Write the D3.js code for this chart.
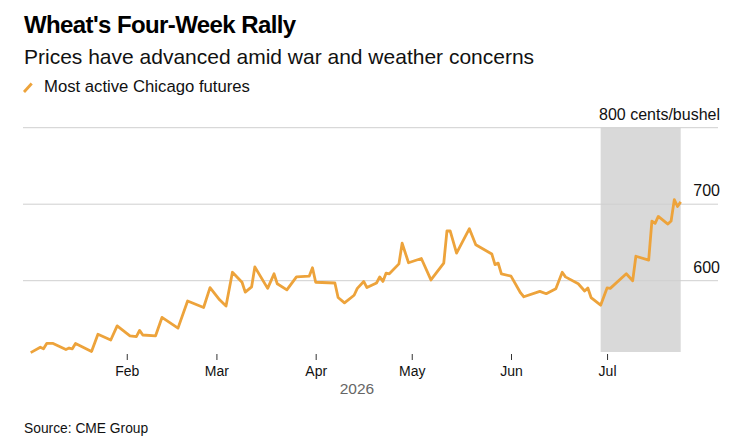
<!DOCTYPE html>
<html>
<head>
<meta charset="utf-8">
<script src="https://cdn.jsdelivr.net/npm/d3@7"></script>
<style>
  body { margin: 0; background: #fff; }
  svg { display: block; font-family: "Liberation Sans", Arial, sans-serif; }
</style>
</head>
<body>
<div id="chart"></div>
<script>
// wheat futures, most active Chicago contract (cents/bushel)
const dates = [
  "2026-01-02", "2026-01-05", "2026-01-06", "2026-01-07", "2026-01-09", "2026-01-13",
  "2026-01-14", "2026-01-15", "2026-01-16", "2026-01-21", "2026-01-23", "2026-01-27",
  "2026-01-29", "2026-02-02", "2026-02-04", "2026-02-05", "2026-02-06", "2026-02-10",
  "2026-02-12", "2026-02-17", "2026-02-20", "2026-02-25", "2026-02-27", "2026-03-02",
  "2026-03-04", "2026-03-06", "2026-03-09", "2026-03-10", "2026-03-12", "2026-03-13",
  "2026-03-17", "2026-03-19", "2026-03-20", "2026-03-23", "2026-03-26", "2026-03-30",
  "2026-03-31", "2026-04-01", "2026-04-07", "2026-04-08", "2026-04-10", "2026-04-13",
  "2026-04-14", "2026-04-16", "2026-04-17", "2026-04-20", "2026-04-21", "2026-04-22",
  "2026-04-23", "2026-04-24", "2026-04-27", "2026-04-28", "2026-04-30", "2026-05-04",
  "2026-05-07", "2026-05-11", "2026-05-12", "2026-05-13", "2026-05-15", "2026-05-19",
  "2026-05-21", "2026-05-26", "2026-05-27", "2026-05-28", "2026-05-29", "2026-06-01",
  "2026-06-04", "2026-06-05", "2026-06-10", "2026-06-12", "2026-06-15", "2026-06-17",
  "2026-06-18", "2026-06-22", "2026-06-24", "2026-06-25", "2026-06-26", "2026-06-29",
  "2026-07-01", "2026-07-02", "2026-07-07", "2026-07-09", "2026-07-10", "2026-07-14",
  "2026-07-15", "2026-07-16", "2026-07-17", "2026-07-20", "2026-07-21", "2026-07-22",
  "2026-07-23", "2026-07-24"
];
const prices = [
  506, 513, 511, 518, 518, 510,
  512, 511, 518, 507.5, 530, 522.5,
  541, 528, 527, 535, 529, 528,
  552, 538, 573.5, 565, 591, 575,
  567, 611, 598, 585, 592, 618,
  590, 609, 596, 588, 605, 606,
  617, 598, 597, 578, 571, 581,
  590, 599, 591, 597, 605, 599,
  610, 609, 622, 649, 623.5, 629,
  601, 623, 665, 665, 636, 668,
  647, 635, 621, 623, 609, 606,
  584, 579, 586, 583, 589.5, 611,
  605, 596, 586.5, 590.5, 578, 568,
  590.5, 590, 609, 600, 632, 627,
  678, 675, 684, 674, 678, 706,
  697, 703
];

// four-week rally window
const rallyStart = "2026-06-29";
const rallyEnd = "2026-07-24";

const yTicks = [600, 700, 800];
const yTickLabels = ["600", "700", "800 cents/bushel"];

const title = "Wheat's Four-Week Rally";
const subtitle = "Prices have advanced amid war and weather concerns";
const legendLabel = "Most active Chicago futures";
const yearLabel = "2026";
const source = "Source: CME Group";

const W = 729, H = 437;
const lineColor = "#eda33b";
const parse = d3.timeParse("%Y-%m-%d");
const data = dates.map((d, i) => ({ date: parse(d), value: prices[i] }));

const svg = d3.select("#chart").append("svg")
  .attr("width", W)
  .attr("height", H);

const x = d3.scaleTime()
  .domain([new Date(2026, 0, 1), new Date(2026, 7, 1)])
  .range([27.5, 27.5 + 212 * 3.202]);

const y = d3.scaleLinear()
  .domain([500, 800])
  .range([357.2, 127.7]);

const plotBottom = 352;
const gridLeft = 23, gridRight = 718;

// shaded rally window
svg.append("rect")
  .attr("x", x(parse(rallyStart)))
  .attr("y", y(800))
  .attr("width", x(parse(rallyEnd)) - x(parse(rallyStart)))
  .attr("height", plotBottom - y(800))
  .attr("fill", "#d9d9d9");

// gridlines
svg.append("g")
  .selectAll("line")
  .data(yTicks)
  .join("line")
  .attr("x1", gridLeft)
  .attr("x2", gridRight)
  .attr("y1", d => y(d))
  .attr("y2", d => y(d))
  .attr("stroke", "#cfcfcf")
  .attr("stroke-width", 1);

svg.append("g")
  .selectAll("text")
  .data(yTicks)
  .join("text")
  .attr("x", 720)
  .attr("y", d => y(d) - 8)
  .attr("text-anchor", "end")
  .style("font-size", "16px")
  .attr("fill", "#111")
  .text((d, i) => yTickLabels[i]);

// price line
svg.append("path")
  .datum(data)
  .attr("fill", "none")
  .attr("stroke", lineColor)
  .attr("stroke-width", 2.8)
  .attr("stroke-linejoin", "round")
  .attr("d", d3.line().x(d => x(d.date)).y(d => y(d.value)));

// month axis
const xAxis = svg.append("g")
  .attr("transform", "translate(0,354)")
  .call(d3.axisBottom(x)
    .tickValues(d3.timeMonth.range(new Date(2026, 1, 1), new Date(2026, 7, 1)))
    .tickFormat(d3.timeFormat("%b"))
    .tickSize(6)
    .tickPadding(6));
xAxis.select(".domain").remove();
xAxis.selectAll("line").attr("stroke", "#333");
xAxis.selectAll("text")
  .style("font-size", "14px")
  .style("font-family", "'Liberation Sans', Arial, sans-serif")
  .attr("fill", "#111");

svg.append("text")
  .attr("x", 357)
  .attr("y", 394)
  .attr("text-anchor", "middle")
  .style("font-size", "15.5px")
  .attr("fill", "#666")
  .text(yearLabel);

// header
svg.append("text")
  .attr("x", 24)
  .attr("y", 33)
  .style("font-size", "24px")
  .style("font-weight", 700)
  .style("letter-spacing", "-0.6px")
  .attr("fill", "#000")
  .text(title);

svg.append("text")
  .attr("x", 24)
  .attr("y", 64)
  .style("font-size", "21px")
  .attr("fill", "#111")
  .text(subtitle);

svg.append("line")
  .attr("x1", 24).attr("y1", 92)
  .attr("x2", 31.7).attr("y2", 83.5)
  .attr("stroke", lineColor)
  .attr("stroke-width", 2.8);

svg.append("text")
  .attr("x", 44)
  .attr("y", 92)
  .style("font-size", "16.7px")
  .attr("fill", "#111")
  .text(legendLabel);

svg.append("text")
  .attr("x", 24)
  .attr("y", 433)
  .style("font-size", "13.8px")
  .attr("fill", "#111")
  .text(source);
</script>
</body>
</html>
